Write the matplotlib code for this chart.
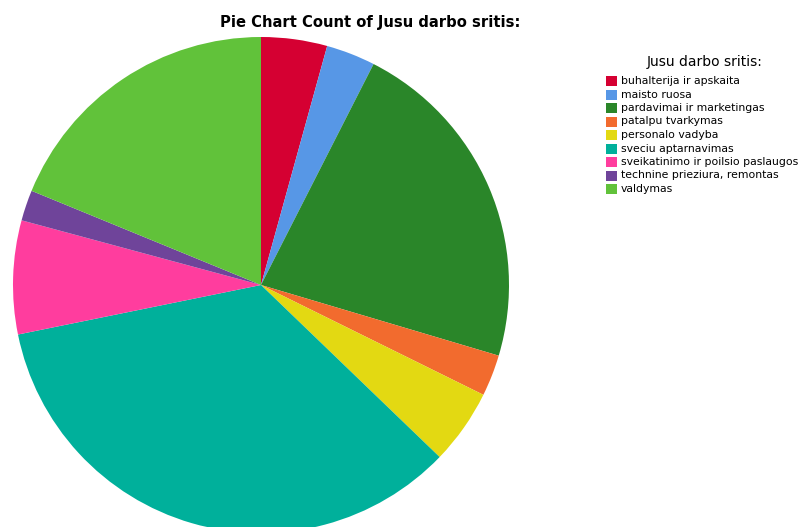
import matplotlib
matplotlib.use("Agg")
import matplotlib.pyplot as plt
from matplotlib.patches import Rectangle

categories = [
    "buhalterija ir apskaita",
    "maisto ruosa",
    "pardavimai ir marketingas",
    "patalpu tvarkymas",
    "personalo vadyba",
    "sveciu aptarnavimas",
    "sveikatinimo ir poilsio paslaugos",
    "technine prieziura, remontas",
    "valdymas",
]
values = [4.3, 3.2, 22.1, 2.7, 4.9, 34.6, 7.4, 2.0, 18.8]
colors = ["#D50032", "#5797E6", "#2A8629", "#F26B2E", "#E3D912",
          "#00B09B", "#FF3D9E", "#6F449A", "#61C23A"]
title = "Pie Chart Count of Jusu darbo sritis:"
legend_title = "Jusu darbo sritis:"

W, H = 803, 527
fig = plt.figure(figsize=(W / 100, H / 100), dpi=100)
plt.rcParams['font.family'] = ['DejaVu Sans']

cx, cy, r = 261, 285, 248
ax = fig.add_axes([(cx - r) / W, (H - cy - r) / H, 2 * r / W, 2 * r / H])
ax.pie(values, colors=colors, startangle=90, counterclock=False, radius=1,
       wedgeprops=dict(linewidth=0))
ax.set_xlim(-1, 1)
ax.set_ylim(-1, 1)
ax.set_aspect('equal')
ax.axis('off')

fig.text(370 / W, 1 - 22 / H, title, ha='center', va='center',
         fontsize=10.6, fontweight='bold')

fig.text(705 / W, 1 - 62 / H, legend_title, ha='center', va='center', fontsize=10)
y0 = 81
dy = 13.5
for i, (lab, col) in enumerate(zip(categories, colors)):
    y = y0 + i * dy
    fig.patches.append(Rectangle((606 / W, 1 - (y + 5) / H), 11 / W, 10 / H,
                                 transform=fig.transFigure, facecolor=col,
                                 edgecolor='none'))
    fig.text(621 / W, 1 - y / H, lab, ha='left', va='center', fontsize=7.8)

fig.savefig("out.png", dpi=100)
